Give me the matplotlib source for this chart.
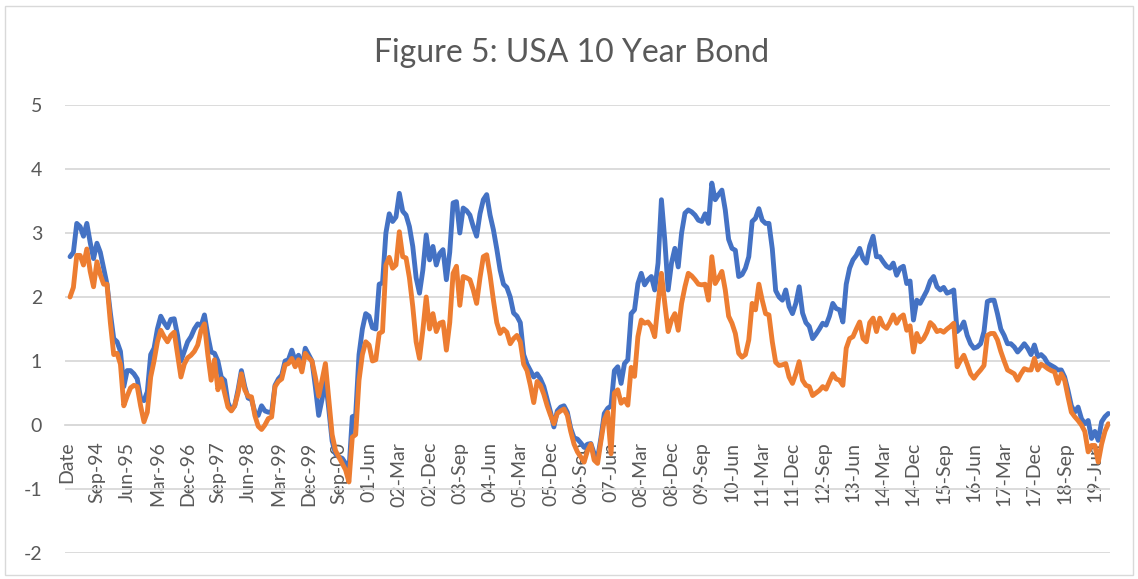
import matplotlib
matplotlib.use("Agg")
import matplotlib.pyplot as plt
from matplotlib.patches import Rectangle

# ---------------- data (monthly, Jan-1994 .. Oct-2019) ----------------
tick_labels = ["Date", "Sep-94", "Jun-95", "Mar-96", "Dec-96", "Sep-97", "Jun-98",
               "Mar-99", "Dec-99", "Sep-00", "01-Jun", "02-Mar", "02-Dec", "03-Sep",
               "04-Jun", "05-Mar", "05-Dec", "06-Sep", "07-Jun", "08-Mar", "08-Dec",
               "09-Sep", "10-Jun", "11-Mar", "11-Dec", "12-Sep", "13-Jun", "14-Mar",
               "14-Dec", "15-Sep", "16-Jun", "17-Mar", "17-Dec", "18-Sep", "19-Jun"]

series_blue = [
    2.63, 2.70, 3.15, 3.10, 2.95, 3.15, 2.85, 2.60, 2.84, 2.70, 2.45, 2.20,   # 1994
    1.75, 1.35, 1.30, 1.15, 0.60, 0.85, 0.85, 0.80, 0.72, 0.42, 0.38, 0.52,   # 1995
    1.10, 1.20, 1.50, 1.70, 1.60, 1.52, 1.65, 1.66, 1.40, 1.00, 1.15, 1.30,   # 1996
    1.38, 1.50, 1.58, 1.55, 1.72, 1.40, 1.14, 1.12, 1.00, 0.75, 0.70, 0.35,   # 1997
    0.23, 0.30, 0.55, 0.85, 0.60, 0.42, 0.40, 0.20, 0.15, 0.30, 0.22, 0.20,   # 1998
    0.20, 0.62, 0.72, 0.78, 1.00, 1.02, 1.17, 1.00, 1.09, 0.88, 1.20, 1.10,   # 1999
    1.00, 0.60, 0.15, 0.40, 0.72, 0.25, -0.25, -0.45, -0.50, -0.52, -0.60, -0.72,  # 2000
    0.13, 0.15, 1.10, 1.50, 1.74, 1.70, 1.52, 1.50, 2.20, 2.22, 3.00, 3.30,   # 2001
    3.18, 3.25, 3.62, 3.34, 3.28, 3.10, 2.79, 2.30, 2.06, 2.42, 2.97, 2.58,   # 2002
    2.79, 2.50, 2.68, 2.74, 2.27, 2.70, 3.47, 3.49, 3.00, 3.39, 3.35, 3.28,   # 2003
    3.10, 2.95, 3.30, 3.52, 3.60, 3.28, 3.05, 2.75, 2.42, 2.20, 2.15, 2.00,   # 2004
    1.75, 1.70, 1.60, 1.10, 0.95, 0.85, 0.75, 0.80, 0.72, 0.60, 0.40, 0.20,   # 2005
    -0.03, 0.22, 0.28, 0.30, 0.20, -0.05, -0.20, -0.22, -0.28, -0.35, -0.30, -0.29,  # 2006
    -0.45, -0.52, -0.20, 0.18, 0.26, 0.30, 0.85, 0.91, 0.65, 0.96, 1.02, 1.74,  # 2007
    1.80, 2.21, 2.37, 2.19, 2.27, 2.32, 2.11, 2.53, 3.52, 2.89, 2.11, 2.53,   # 2008
    2.76, 2.47, 3.00, 3.31, 3.36, 3.33, 3.28, 3.20, 3.18, 3.30, 3.15, 3.78,   # 2009
    3.52, 3.60, 3.67, 3.36, 2.90, 2.76, 2.73, 2.32, 2.35, 2.45, 2.63, 3.18,   # 2010
    3.23, 3.38, 3.20, 3.15, 3.15, 2.75, 2.10, 2.00, 1.95, 2.11, 1.85, 1.74,   # 2011
    1.90, 2.16, 1.75, 1.60, 1.54, 1.35, 1.42, 1.50, 1.59, 1.56, 1.70, 1.90,   # 2012
    1.82, 1.80, 1.61, 2.20, 2.45, 2.58, 2.65, 2.76, 2.60, 2.53, 2.80, 2.95,   # 2013
    2.63, 2.63, 2.55, 2.48, 2.45, 2.53, 2.34, 2.45, 2.48, 2.21, 2.25, 1.64,   # 2014
    1.95, 1.90, 2.00, 2.10, 2.25, 2.32, 2.16, 2.11, 2.15, 2.06, 2.08, 2.11,   # 2015
    1.46, 1.51, 1.61, 1.40, 1.27, 1.20, 1.22, 1.27, 1.46, 1.93, 1.95, 1.95,   # 2016
    1.74, 1.50, 1.40, 1.27, 1.27, 1.22, 1.14, 1.20, 1.27, 1.20, 1.10, 1.25,   # 2017
    1.07, 1.10, 1.05, 0.96, 0.93, 0.90, 0.86, 0.86, 0.75, 0.54, 0.30, 0.20,   # 2018
    0.28, 0.10, 0.02, 0.07, -0.21, -0.10, -0.24, 0.05, 0.13, 0.18,            # 2019
]

series_orange = [
    2.00, 2.15, 2.65, 2.65, 2.50, 2.75, 2.40, 2.16, 2.55, 2.35, 2.20, 2.20,   # 1994
    1.60, 1.10, 1.12, 0.95, 0.30, 0.45, 0.58, 0.62, 0.60, 0.30, 0.05, 0.20,   # 1995
    0.75, 1.00, 1.30, 1.48, 1.38, 1.30, 1.40, 1.45, 1.10, 0.75, 0.95, 1.05,   # 1996
    1.09, 1.15, 1.25, 1.48, 1.58, 1.10, 0.70, 1.02, 0.55, 0.72, 0.50, 0.28,   # 1997
    0.22, 0.30, 0.50, 0.80, 0.55, 0.45, 0.44, 0.15, -0.02, -0.07, 0.00, 0.10,  # 1998
    0.125, 0.60, 0.68, 0.72, 0.94, 0.96, 1.04, 0.91, 1.02, 0.83, 1.12, 1.05,  # 1999
    1.00, 0.75, 0.45, 0.70, 0.96, 0.40, -0.15, -0.40, -0.50, -0.60, -0.70, -0.89,  # 2000
    -0.19, -0.15, 0.70, 1.10, 1.30, 1.25, 1.00, 1.02, 1.43, 1.46, 2.50, 2.62,  # 2001
    2.45, 2.50, 3.02, 2.63, 2.61, 2.30, 1.85, 1.30, 1.04, 1.48, 2.00, 1.50,   # 2002
    1.74, 1.46, 1.59, 1.61, 1.17, 1.60, 2.37, 2.48, 1.87, 2.32, 2.30, 2.27,   # 2003
    2.11, 1.90, 2.30, 2.63, 2.66, 2.34, 1.95, 1.60, 1.43, 1.50, 1.45, 1.27,   # 2004
    1.35, 1.40, 1.30, 0.95, 0.85, 0.62, 0.35, 0.68, 0.62, 0.48, 0.30, 0.15,   # 2005
    0.02, 0.18, 0.22, 0.25, 0.15, -0.10, -0.30, -0.42, -0.50, -0.58, -0.40, -0.30,  # 2006
    -0.55, -0.60, -0.25, 0.08, 0.20, -0.45, 0.50, 0.55, 0.34, 0.40, 0.31, 0.90,  # 2007
    0.76, 1.38, 1.64, 1.59, 1.61, 1.54, 1.38, 1.90, 2.37, 1.90, 1.46, 1.64,   # 2008
    1.74, 1.48, 1.90, 2.16, 2.37, 2.33, 2.27, 2.20, 2.19, 2.20, 1.95, 2.63,   # 2009
    2.21, 2.30, 2.40, 2.11, 1.70, 1.59, 1.43, 1.12, 1.06, 1.10, 1.33, 1.90,   # 2010
    1.80, 2.20, 1.95, 1.74, 1.72, 1.30, 0.98, 0.93, 0.94, 0.96, 0.75, 0.65,   # 2011
    0.80, 0.99, 0.70, 0.62, 0.60, 0.46, 0.50, 0.54, 0.60, 0.56, 0.68, 0.80,   # 2012
    0.72, 0.70, 0.62, 1.20, 1.35, 1.38, 1.50, 1.61, 1.35, 1.30, 1.60, 1.67,   # 2013
    1.46, 1.67, 1.55, 1.51, 1.60, 1.72, 1.59, 1.68, 1.72, 1.48, 1.55, 1.14,   # 2014
    1.43, 1.30, 1.35, 1.45, 1.60, 1.55, 1.46, 1.48, 1.45, 1.50, 1.54, 1.59,   # 2015
    0.91, 1.01, 1.09, 0.95, 0.80, 0.73, 0.80, 0.86, 0.93, 1.40, 1.43, 1.43,   # 2016
    1.33, 1.15, 1.00, 0.86, 0.83, 0.80, 0.70, 0.80, 0.88, 0.86, 0.86, 1.04,   # 2017
    0.86, 0.95, 0.92, 0.88, 0.85, 0.83, 0.65, 0.80, 0.70, 0.44, 0.20, 0.13,   # 2018
    0.07, 0.00, -0.10, -0.42, -0.32, -0.32, -0.58, -0.30, -0.10, 0.02,        # 2019
]

title = "Figure 5: USA 10 Year Bond"
y_ticks = [-2, -1, 0, 1, 2, 3, 4, 5]

# ---------------- figure ----------------
W, H = 1138, 579
fig = plt.figure(figsize=(W / 100, H / 100), dpi=100)
fig.patch.set_facecolor("white")
fig.patches.append(Rectangle((5 / W, 4 / H), 1 - 10 / W, 1 - 10 / H, transform=fig.transFigure,
                             fill=False, edgecolor="#d9d9d9", linewidth=1.0))

left, right, top, bottom = 65, 1110, 105, 553
ax = fig.add_axes([left / W, 1 - bottom / H, (right - left) / W, (bottom - top) / H])

font = "Lato"
text_color = "#595959"
grid_color = "#d9d9d9"

# axis line at y = 0 (set first: moving a spine resets tick settings)
for s in ("top", "right", "left"):
    ax.spines[s].set_visible(False)
ax.spines["bottom"].set_position(("data", 0))
ax.spines["bottom"].set_color(grid_color)
ax.spines["bottom"].set_linewidth(1.3)

n_cat = len(series_blue) + 1          # category 0 is the "Date" header
x = list(range(1, n_cat))
ax.plot(x, series_blue, color="#4472C4", linewidth=3.5, solid_joinstyle="round",
        solid_capstyle="round", zorder=3)
ax.plot(x, series_orange, color="#ED7D31", linewidth=3.5, solid_joinstyle="round",
        solid_capstyle="round", zorder=4)

ax.set_xlim(-0.5, n_cat - 0.5)
ax.set_ylim(-2, 5)
ax.set_yticks(y_ticks)
ax.set_yticklabels([str(v) for v in y_ticks])
ax.yaxis.grid(True, color=grid_color, linewidth=1.3)
ax.set_axisbelow(True)

ax.set_xticks(list(range(0, 9 * len(tick_labels), 9)))
ax.set_xticklabels(tick_labels)

ax.tick_params(axis="x", length=0, pad=12, labelrotation=90, labelsize=14,
               labelcolor=text_color, labelfontfamily=font)
ax.tick_params(axis="y", length=0, pad=16.5, labelsize=14,
               labelcolor=text_color, labelfontfamily=font)
for lab in ax.get_xticklabels():
    lab.set_rotation(90)
    lab.set_ha("center")
    lab.set_va("top")
ax.set_facecolor("none")

fig.text(572 / W, 1 - 62 / H, title, ha="center", va="baseline", fontsize=23,
         color=text_color, fontfamily=font)

fig.savefig("out.png", dpi=100, facecolor="white")
